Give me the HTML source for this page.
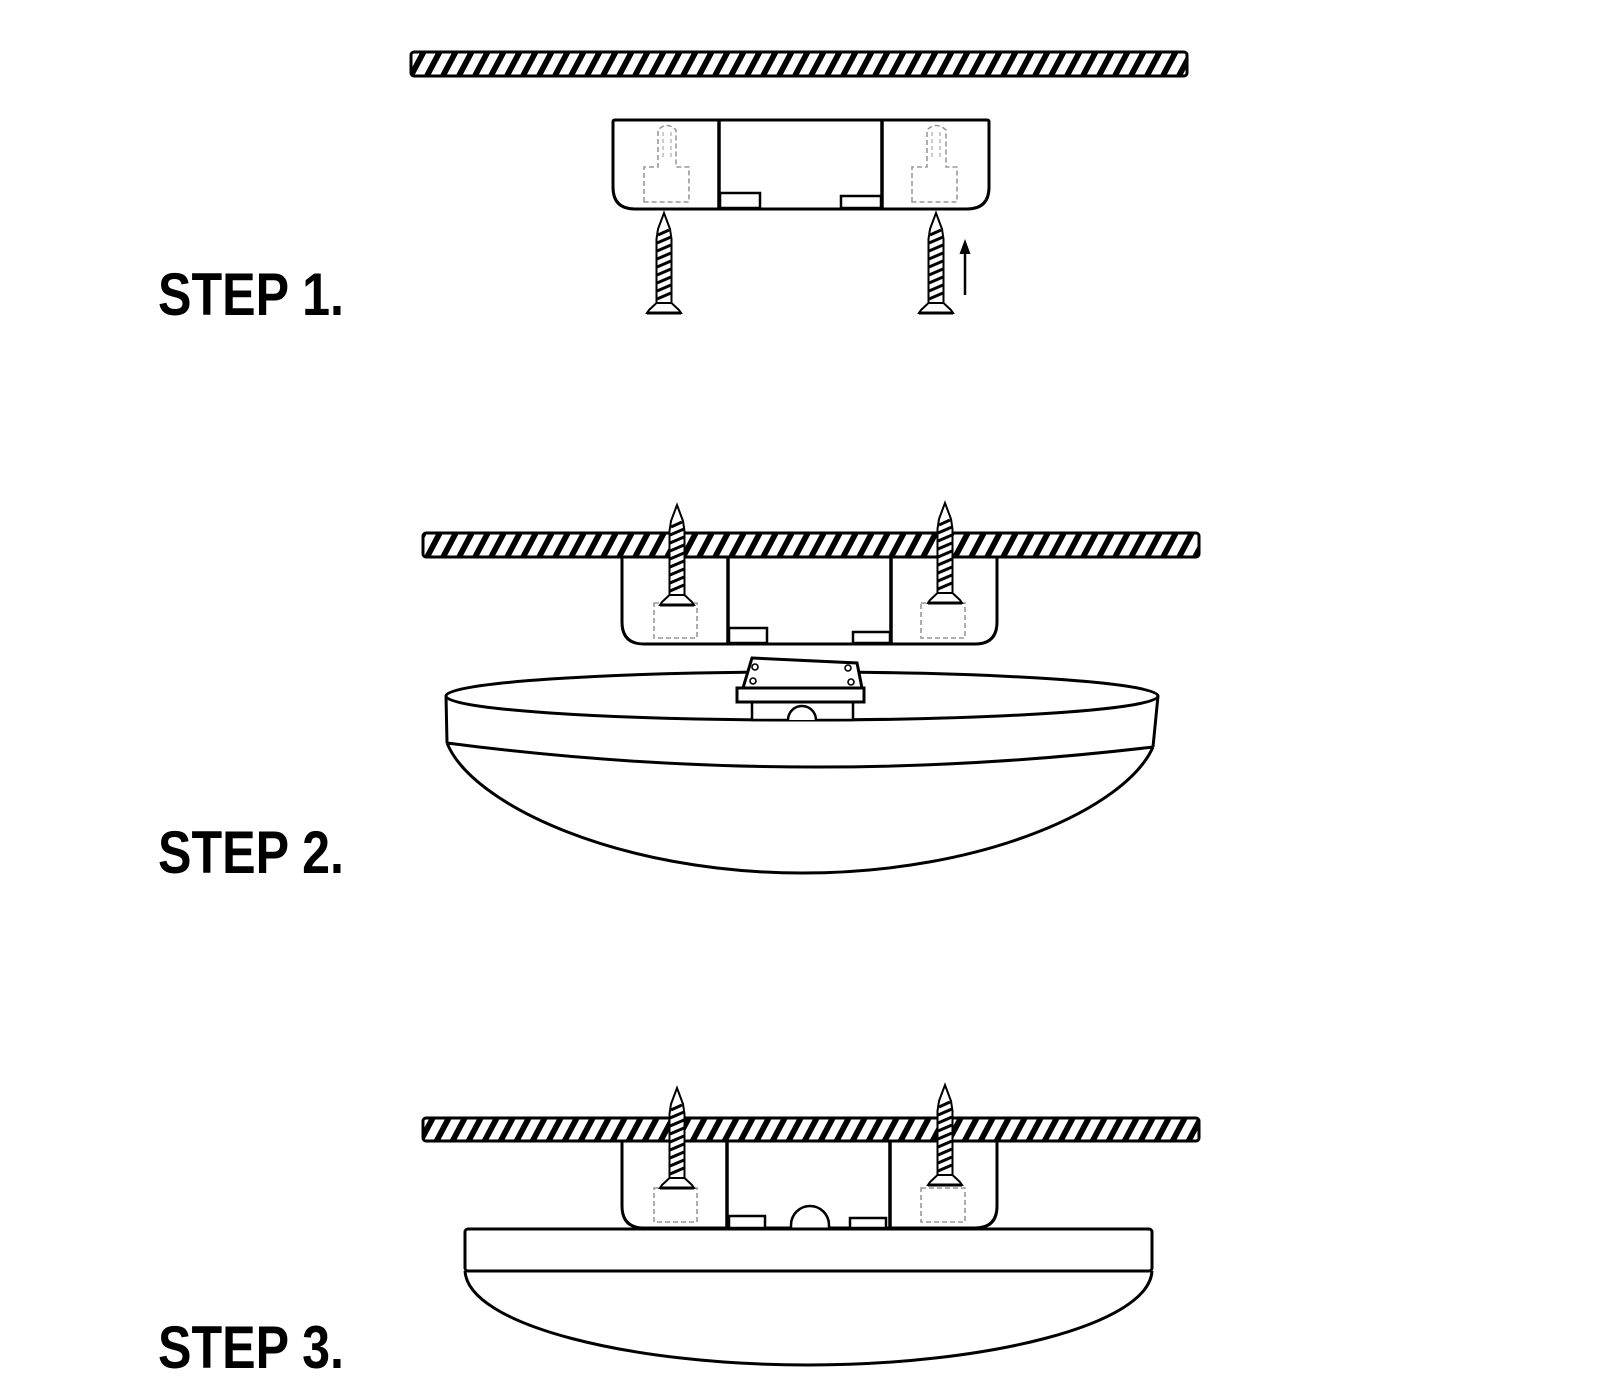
<!DOCTYPE html>
<html>
<head>
<meta charset="utf-8">
<style>
  html, body { margin: 0; padding: 0; background: #fff; }
  svg { display: block; }
</style>
</head>
<body>
<svg width="1600" height="1400" viewBox="0 0 1600 1400" xmlns="http://www.w3.org/2000/svg">
  <defs>
    <pattern id="hatch" patternUnits="userSpaceOnUse" width="16" height="40" patternTransform="skewX(-28)">
      <rect width="16" height="40" fill="#fff"/>
      <rect x="0" y="0" width="6.5" height="40" fill="#000"/>
    </pattern>
    <g id="screw">
      <path d="M0,0 L6,16 L7.5,26 L7.5,90 L-7.5,90 L-7.5,26 L-6,16 Z" fill="#fff" stroke="#000" stroke-width="2"/>
      <path d="M-6,22 L5,17 M-7,30 L7,24 M-7,38 L7,32 M-7,46 L7,40 M-7,54 L7,48 M-7,62 L7,56 M-7,70 L7,64 M-7,78 L7,72 M-7,86 L7,80" stroke="#000" stroke-width="3" fill="none"/>
      <path d="M-7.5,90 L7.5,90 L15,97 L17,100 L-17,100 L-15,97 Z" fill="#fff" stroke="#000" stroke-width="2"/>
      <line x1="-17" y1="100" x2="17" y2="100" stroke="#000" stroke-width="3"/>
    </g>
  </defs>

  <!-- ================= STEP 1 ================= -->
  <rect x="411" y="52" width="776" height="24" rx="3" fill="url(#hatch)" stroke="#000" stroke-width="3"/>

  <!-- bracket -->
  <path d="M613,122 Q613,120 615,120 L987,120 Q989,120 989,122 L989,187 Q989,209 967,209 L635,209 Q613,209 613,187 Z" fill="#fff" stroke="#000" stroke-width="3"/>
  <line x1="719" y1="120" x2="719" y2="209" stroke="#000" stroke-width="3.5"/>
  <line x1="882" y1="120" x2="882" y2="209" stroke="#000" stroke-width="3.5"/>
  <rect x="720" y="193" width="40" height="15" fill="#fff" stroke="#000" stroke-width="2.5"/>
  <rect x="841" y="196" width="40" height="12" fill="#fff" stroke="#000" stroke-width="2.5"/>
  <!-- dashed keyholes -->
  <path d="M644,202 L644,167 L658,167 L658,130 Q667,121 676,130 L676,167 L689,167 L689,202 Z" fill="none" stroke="#999" stroke-width="1.6" stroke-dasharray="5,3"/>
  <path d="M663,132 L663,160 M671,132 L671,160" fill="none" stroke="#aaa" stroke-width="1.2" stroke-dasharray="4,3"/>
  <path d="M912,202 L912,167 L927,167 L927,130 Q936,121 946,130 L946,167 L957,167 L957,202 Z" fill="none" stroke="#999" stroke-width="1.6" stroke-dasharray="5,3"/>
  <path d="M932,132 L932,160 M940,132 L940,160" fill="none" stroke="#aaa" stroke-width="1.2" stroke-dasharray="4,3"/>

  <!-- screws -->
  <use href="#screw" transform="translate(664,213)"/>
  <use href="#screw" transform="translate(936,213)"/>

  <!-- arrow -->
  <line x1="965" y1="250" x2="965" y2="295" stroke="#000" stroke-width="2.5"/>
  <polygon points="965,239 959.5,254 970.5,254" fill="#000"/>

  <text x="158" y="315" font-family="Liberation Sans, Arial, sans-serif" font-weight="bold" font-size="60" textLength="186" lengthAdjust="spacingAndGlyphs" fill="#000">STEP 1.</text>

  <!-- ================= STEP 2 ================= -->
  <!-- bracket -->
  <path d="M622,557 L622,622 Q622,644 644,644 L975,644 Q997,644 997,622 L997,557" fill="#fff" stroke="#000" stroke-width="3"/>
  <line x1="728" y1="557" x2="728" y2="644" stroke="#000" stroke-width="3.5"/>
  <line x1="891" y1="557" x2="891" y2="644" stroke="#000" stroke-width="3.5"/>
  <rect x="729" y="628" width="38" height="15" fill="#fff" stroke="#000" stroke-width="2.5"/>
  <rect x="853" y="632" width="37" height="11" fill="#fff" stroke="#000" stroke-width="2.5"/>
  <rect x="654" y="603" width="43" height="35" fill="none" stroke="#999" stroke-width="1.6" stroke-dasharray="5,3"/>
  <rect x="921" y="603" width="44" height="35" fill="none" stroke="#999" stroke-width="1.6" stroke-dasharray="5,3"/>

  <!-- ceiling bar -->
  <rect x="423" y="533" width="776" height="24" rx="3" fill="url(#hatch)" stroke="#000" stroke-width="3"/>
  <!-- screws -->
  <use href="#screw" transform="translate(677,505)"/>
  <use href="#screw" transform="translate(945,503)"/>

  <!-- lamp -->
  <path d="M447,743 C472,805 620,873 802,873 C984,873 1126,808 1153,747" fill="#fff" stroke="#000" stroke-width="3"/>
  <path d="M446,696 L447,743 M1158,696 L1153,747" fill="none" stroke="#000" stroke-width="3"/>
  <path d="M447,743 Q800,789 1153,747" fill="none" stroke="#000" stroke-width="3"/>
  <ellipse cx="802" cy="696" rx="356" ry="24" fill="#fff" stroke="#000" stroke-width="3"/>

  <!-- junction box -->
  <rect x="752" y="702" width="101" height="18" fill="#fff" stroke="#000" stroke-width="2.5"/>
  <path d="M788,720 A14,14 0 0 1 816,720" fill="#fff" stroke="#000" stroke-width="2.5"/>
  <rect x="737" y="688" width="127" height="14" fill="#fff" stroke="#000" stroke-width="3"/>
  <polygon points="752,658 857,663 862,688 743,688" fill="#fff" stroke="#000" stroke-width="3"/>
  <circle cx="755" cy="667" r="3" fill="none" stroke="#000" stroke-width="1.6"/>
  <circle cx="753" cy="681" r="3" fill="none" stroke="#000" stroke-width="1.6"/>
  <circle cx="848" cy="668" r="3" fill="none" stroke="#000" stroke-width="1.6"/>
  <circle cx="851" cy="682" r="3" fill="none" stroke="#000" stroke-width="1.6"/>

  <text x="158" y="873" font-family="Liberation Sans, Arial, sans-serif" font-weight="bold" font-size="60" textLength="186" lengthAdjust="spacingAndGlyphs" fill="#000">STEP 2.</text>

  <!-- ================= STEP 3 ================= -->
  <!-- bracket -->
  <path d="M622,1141 L622,1206 Q622,1228 644,1228 L975,1228 Q997,1228 997,1206 L997,1141" fill="#fff" stroke="#000" stroke-width="3"/>
  <line x1="727" y1="1141" x2="727" y2="1228" stroke="#000" stroke-width="3.5"/>
  <line x1="890" y1="1141" x2="890" y2="1228" stroke="#000" stroke-width="3.5"/>
  <rect x="729" y="1216" width="36" height="12" fill="#fff" stroke="#000" stroke-width="2.5"/>
  <rect x="850" y="1218" width="36" height="10" fill="#fff" stroke="#000" stroke-width="2.5"/>
  <path d="M791,1228 L791,1225 A19,19 0 0 1 829,1225 L829,1228" fill="#fff" stroke="#000" stroke-width="2.5"/>
  <rect x="654" y="1188" width="43" height="34" fill="none" stroke="#999" stroke-width="1.6" stroke-dasharray="5,3"/>
  <rect x="921" y="1188" width="44" height="34" fill="none" stroke="#999" stroke-width="1.6" stroke-dasharray="5,3"/>

  <!-- ceiling bar -->
  <rect x="423" y="1118" width="776" height="23" rx="3" fill="url(#hatch)" stroke="#000" stroke-width="3"/>
  <use href="#screw" transform="translate(677,1088)"/>
  <use href="#screw" transform="translate(945,1085)"/>

  <!-- lamp -->
  <path d="M465,1271 C468,1325 630,1365 808,1365 C986,1365 1149,1325 1152,1271" fill="#fff" stroke="#000" stroke-width="3"/>
  <rect x="465" y="1229" width="687" height="42" rx="3" fill="#fff" stroke="#000" stroke-width="3"/>

  <text x="158" y="1368" font-family="Liberation Sans, Arial, sans-serif" font-weight="bold" font-size="60" textLength="186" lengthAdjust="spacingAndGlyphs" fill="#000">STEP 3.</text>
</svg>
</body>
</html>
